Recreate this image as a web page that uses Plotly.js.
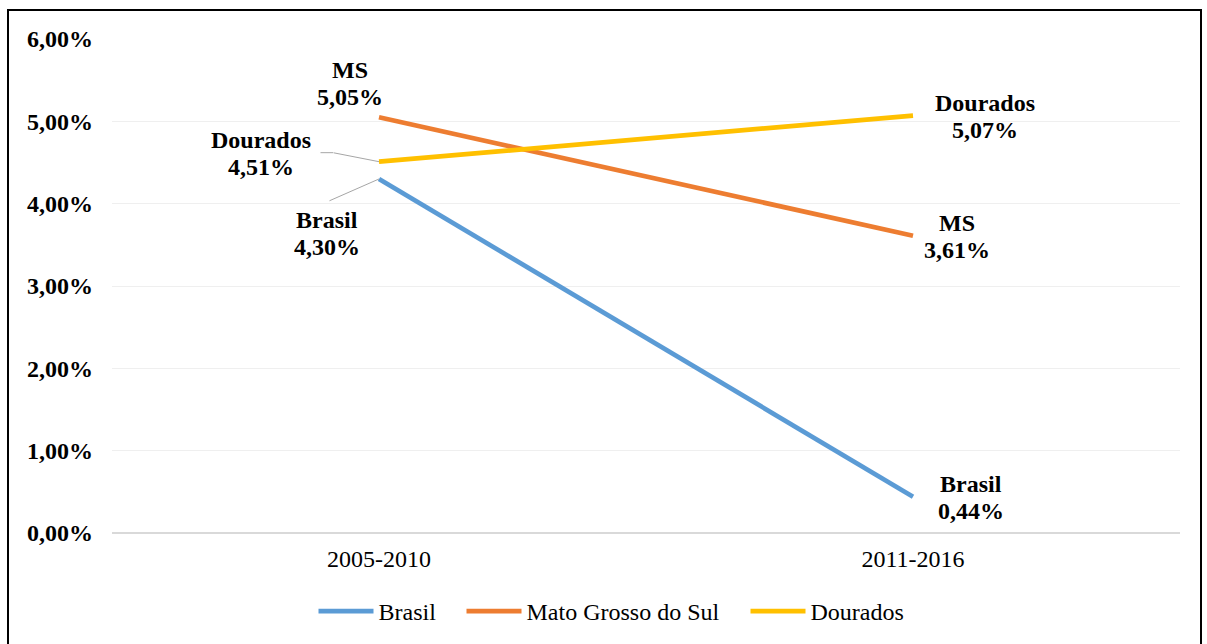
<!DOCTYPE html>
<html>
<head>
<meta charset="utf-8">
<script src="https://cdn.plot.ly/plotly-3.0.1.min.js"></script>
<style>
  html, body { margin: 0; padding: 0; background: #fff; }
  #wrap { position: relative; width: 1207px; height: 644px; overflow: hidden; }
  #chart { width: 1207px; height: 644px; }
  #frame { position: absolute; left: 7px; top: 9px; width: 1191px; height: 660px;
           border: 2px solid #000; pointer-events: none; }
</style>
</head>
<body>
<div id="wrap">
  <div id="chart"></div>
  <div id="frame"></div>
</div>
<script>
// ---- data ----
const categories = ['2005-2010', '2011-2016'];
const brasil = [4.30, 0.44];
const matoGrossoDoSul = [5.05, 3.61];
const dourados = [4.51, 5.07];
const seriesNames = ['Brasil', 'Mato Grosso do Sul', 'Dourados'];
const labelNames = ['Brasil', 'MS', 'Dourados'];
const yTickValues = [0, 1, 2, 3, 4, 5, 6];

// ---- styles / placement ----
const colors = ['#5B9BD5', '#ED7D31', '#FFC000'];
const FONT = 'Liberation Serif, Times New Roman, serif';
// label block centre offsets (px) from each point: [xshift, yshift]
const labelOffsets = [
  [[-52, -55], [58, -1]],
  [[-29, 34], [44, -1]],
  [[-118, 8], [72, -1]]
];
const halfLine = 13.5;
// legend entry left positions (px, container)
const legendLeft = [320, 468, 752];
const legendIds = ['legend', 'legend2', 'legend3'];

const seriesValues = [brasil, matoGrossoDoSul, dourados];

const traces = seriesValues.map((vals, i) => ({
  type: 'scatter',
  mode: 'lines',
  x: categories,
  y: vals,
  name: seriesNames[i],
  legend: legendIds[i],
  line: { color: colors[i], width: 4.7 },
  hoverinfo: 'skip'
}));

const fmt = v => v.toFixed(2).replace('.', ',') + '%';

const annotations = [];
seriesValues.forEach((vals, i) => {
  vals.forEach((v, j) => {
    const [dx, dy] = labelOffsets[i][j];
    annotations.push({
      x: categories[j], y: v, xref: 'x', yref: 'y',
      text: '<b>' + labelNames[i] + '</b>', showarrow: false,
      xshift: dx, yshift: dy + halfLine,
      font: { family: FONT, size: 24, color: '#000' }
    });
    annotations.push({
      x: categories[j], y: v, xref: 'x', yref: 'y',
      text: '<b>' + fmt(v) + '</b>', showarrow: false,
      xshift: dx, yshift: dy - halfLine,
      font: { family: FONT, size: 24, color: '#000' }
    });
  });
});

// leader lines
const leader = { text: ' ', showarrow: true, arrowhead: 0, arrowwidth: 1,
  arrowcolor: '#A6A6A6', axref: 'pixel', ayref: 'pixel', borderpad: 0,
  font: { size: 1 }, standoff: 0, xref: 'x', yref: 'y' };
annotations.push(Object.assign({}, leader, { x: categories[0], y: brasil[0], ax: -50, ay: 22 }));
annotations.push(Object.assign({}, leader, { x: categories[0], y: dourados[0], ax: -46, ay: -9 }));
annotations.push(Object.assign({}, leader, { x: categories[0], y: dourados[0], ax: -13, ay: 0, xshift: -46, yshift: 9 }));

const layout = {
  width: 1207, height: 644,
  margin: { l: 112, r: 27, t: 39, b: 111 },
  paper_bgcolor: '#fff', plot_bgcolor: '#fff',
  showlegend: true,
  font: { family: FONT, color: '#000' },
  xaxis: {
    type: 'category', range: [-0.5, 1.5],
    showgrid: false, zeroline: false, showline: false, ticks: '',
    tickfont: { family: FONT, size: 24, color: '#000' },
    ticklabelstandoff: 9
  },
  yaxis: {
    range: [0, 6], tickmode: 'array', tickvals: yTickValues,
    ticktext: yTickValues.map(v => '<b>' + fmt(v) + '</b>'),
    showgrid: true, gridcolor: '#EFEFEF', gridwidth: 1,
    zeroline: true, zerolinecolor: '#D9D9D9', zerolinewidth: 1.5,
    showline: false, ticks: '',
    tickfont: { family: FONT, size: 24, color: '#000' },
    ticklabelstandoff: 18
  },
  annotations: annotations
};

legendIds.forEach((id, i) => {
  layout[id] = {
    orientation: 'h', xref: 'container', x: (legendLeft[i] - 6.5) / 1207, xanchor: 'left',
    yref: 'container', y: 1 - 611.5 / 644, yanchor: 'middle',
    font: { family: FONT, size: 24, color: '#000' },
    itemwidth: 55, bgcolor: 'rgba(0,0,0,0)', borderwidth: 0
  };
});

Plotly.newPlot('chart', traces, layout, { staticPlot: true, displayModeBar: false });
</script>
</body>
</html>
